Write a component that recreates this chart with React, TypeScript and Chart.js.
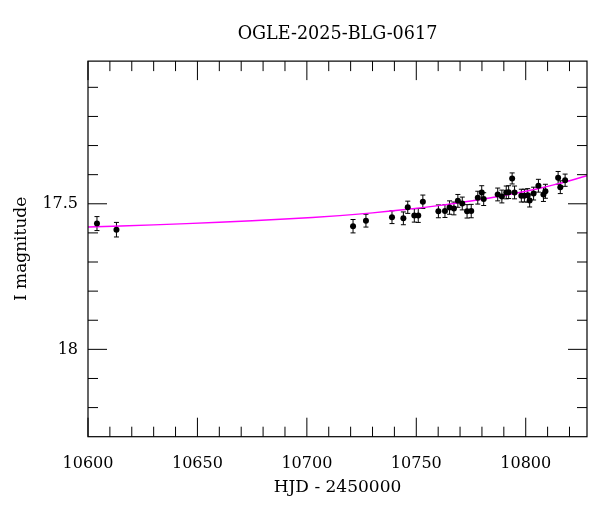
import React, { useEffect, useRef } from "react";
import { Chart, registerables } from "chart.js";

Chart.register(...registerables);

const TITLE = "OGLE-2025-BLG-0617";
const X_LABEL = "HJD - 2450000";
const Y_LABEL = "I magnitude";

// Observations (HJD - 2450000, I mag, error)
const hjd = [
  10604.1, 10613.0, 10721.1, 10727.0, 10738.9, 10744.1, 10746.1, 10749.1, 10750.9, 10753.0,
  10760.1, 10763.1, 10765.2, 10767.2, 10769.0, 10771.0, 10773.2, 10775.1, 10778.1, 10779.9,
  10780.8, 10787.2, 10789.1, 10791.1, 10792.2, 10793.8, 10794.9, 10798.0, 10799.4, 10800.9,
  10801.8, 10803.6, 10805.8, 10808.1, 10809.0, 10814.8, 10815.8, 10818.0,
];
const mag = [
  17.568, 17.589, 17.577, 17.558, 17.546, 17.550, 17.512, 17.540, 17.540, 17.493,
  17.526, 17.525, 17.513, 17.516, 17.490, 17.499, 17.526, 17.525, 17.479, 17.461,
  17.484, 17.468, 17.475, 17.461, 17.460, 17.413, 17.461, 17.472, 17.472, 17.471,
  17.489, 17.465, 17.438, 17.468, 17.457, 17.411, 17.443, 17.419,
];
const magErr = [
  0.024, 0.025, 0.023, 0.022, 0.022, 0.022, 0.021, 0.023, 0.024, 0.023,
  0.022, 0.022, 0.023, 0.022, 0.022, 0.022, 0.023, 0.023, 0.022, 0.023,
  0.022, 0.022, 0.022, 0.022, 0.022, 0.019, 0.022, 0.022, 0.022, 0.023,
  0.022, 0.022, 0.022, 0.024, 0.024, 0.022, 0.022, 0.021,
];

// Model curve
const modelHjd = [10600, 10630, 10660, 10690, 10715, 10730, 10745, 10760, 10775, 10790, 10805, 10815, 10828];
const modelMag = [17.580, 17.5725, 17.5635, 17.5524, 17.5406, 17.5313, 17.5197, 17.5062, 17.4904, 17.4716, 17.4491, 17.431, 17.4037];

const X_MIN = 10600;
const X_MAX = 10828;
const Y_MIN = 17.01;
const Y_MAX = 18.3;

const xMajorTicks = [10600, 10650, 10700, 10750, 10800];
const xMinorTicks = [
  10610, 10620, 10630, 10640, 10660, 10670, 10680, 10690, 10710, 10720,
  10730, 10740, 10760, 10770, 10780, 10790, 10810, 10820,
];
const yMajorTicks = [17.5, 18];
const yMinorTicks = [17.1, 17.2, 17.3, 17.4, 17.6, 17.7, 17.8, 17.9, 18.1, 18.2];

const FONT = "'DejaVu Serif', serif";

const errorBarPlugin = {
  id: "errorBars",
  beforeDatasetsDraw(chart: any) {
    const { ctx, scales } = chart;
    const xs = scales.x;
    const ys = scales.y;
    ctx.save();
    ctx.strokeStyle = "#000";
    ctx.lineWidth = 1;
    for (let i = 0; i < hjd.length; i++) {
      const px = xs.getPixelForValue(hjd[i]);
      const yTop = ys.getPixelForValue(mag[i] - magErr[i]);
      const yBot = ys.getPixelForValue(mag[i] + magErr[i]);
      ctx.beginPath();
      ctx.moveTo(px, yTop);
      ctx.lineTo(px, yBot);
      ctx.moveTo(px - 2.5, yTop);
      ctx.lineTo(px + 2.5, yTop);
      ctx.moveTo(px - 2.5, yBot);
      ctx.lineTo(px + 2.5, yBot);
      ctx.stroke();
    }
    ctx.restore();
  },
};

const framePlugin = {
  id: "frame",
  afterDraw(chart: any) {
    const { ctx, chartArea, scales } = chart;
    const { left, right, top, bottom } = chartArea;
    const xs = scales.x;
    const ys = scales.y;
    const MAJ = 19;
    const MIN = 10;
    ctx.save();
    ctx.strokeStyle = "#000";
    ctx.lineWidth = 1.2;
    ctx.strokeRect(left, top, right - left, bottom - top);
    ctx.lineWidth = 1;
    ctx.beginPath();
    const xt = (v: number, len: number) => {
      const p = xs.getPixelForValue(v);
      ctx.moveTo(p, bottom);
      ctx.lineTo(p, bottom - len);
      ctx.moveTo(p, top);
      ctx.lineTo(p, top + len);
    };
    const yt = (v: number, len: number) => {
      const p = ys.getPixelForValue(v);
      ctx.moveTo(left, p);
      ctx.lineTo(left + len, p);
      ctx.moveTo(right, p);
      ctx.lineTo(right - len, p);
    };
    xMajorTicks.forEach((v) => xt(v, MAJ));
    xMinorTicks.forEach((v) => xt(v, MIN));
    yMajorTicks.forEach((v) => yt(v, MAJ));
    yMinorTicks.forEach((v) => yt(v, MIN));
    ctx.stroke();
    ctx.restore();
  },
};

export default function App() {
  const ref = useRef<HTMLCanvasElement | null>(null);

  useEffect(() => {
    document.body.style.margin = "0";
    const canvas = ref.current;
    if (!canvas) return;
    const chart = new Chart(canvas, {
      type: "scatter",
      data: {
        datasets: [
          {
            label: "data",
            data: hjd.map((x, i) => ({ x, y: mag[i] })),
            backgroundColor: "#000",
            borderColor: "#000",
            pointRadius: 3,
            pointBorderWidth: 0,
            showLine: false,
          },
          {
            label: "model",
            data: modelHjd.map((x, i) => ({ x, y: modelMag[i] })),
            borderColor: "#ff00ff",
            backgroundColor: "#ff00ff",
            borderWidth: 1.4,
            pointRadius: 0,
            showLine: true,
            tension: 0.4,
          },
        ],
      },
      options: {
        animation: false,
        responsive: false,
        devicePixelRatio: 1,
        layout: { padding: { left: 0, right: 13, top: 0, bottom: 0 } },
        plugins: {
          legend: { display: false },
          tooltip: { enabled: false },
          title: {
            display: true,
            text: TITLE,
            fullSize: false,
            color: "#000",
            font: { family: FONT, size: 17.6, weight: "normal" },
            padding: { top: 24, bottom: 16 },
          },
        },
        scales: {
          x: {
            type: "linear",
            min: X_MIN,
            max: X_MAX,
            grid: { display: false, drawTicks: false },
            border: { display: false },
            afterBuildTicks: (scale: any) => {
              scale.ticks = xMajorTicks.map((value) => ({ value }));
            },
            afterFit: (scale: any) => {
              scale.height = 75.3;
            },
            ticks: {
              color: "#000",
              padding: 18,
              maxRotation: 0,
              font: { family: FONT, size: 16 },
              callback: (v: any) => String(v),
            },
            title: {
              display: true,
              text: X_LABEL,
              color: "#000",
              font: { family: FONT, size: 17 },
              padding: { top: 0, bottom: 14 },
            },
          },
          y: {
            type: "linear",
            reverse: true,
            min: Y_MIN,
            max: Y_MAX,
            grid: { display: false, drawTicks: false },
            border: { display: false },
            afterBuildTicks: (scale: any) => {
              scale.ticks = yMajorTicks.map((value) => ({ value }));
            },
            afterFit: (scale: any) => {
              scale.width = 88;
            },
            ticks: {
              color: "#000",
              padding: 10,
              font: { family: FONT, size: 16 },
              callback: (v: any) => String(v),
            },
            title: {
              display: true,
              text: Y_LABEL,
              color: "#000",
              font: { family: FONT, size: 17 },
              padding: { top: 11, bottom: 0 },
            },
          },
        },
      },
      plugins: [errorBarPlugin, framePlugin],
    } as any);
    return () => chart.destroy();
  }, []);

  return (
    <div style={{ position: "absolute", left: 0, top: 0, width: 600, height: 512, background: "#fff" }}>
      <canvas ref={ref} width={600} height={512} style={{ width: 600, height: 512 }} />
    </div>
  );
}
